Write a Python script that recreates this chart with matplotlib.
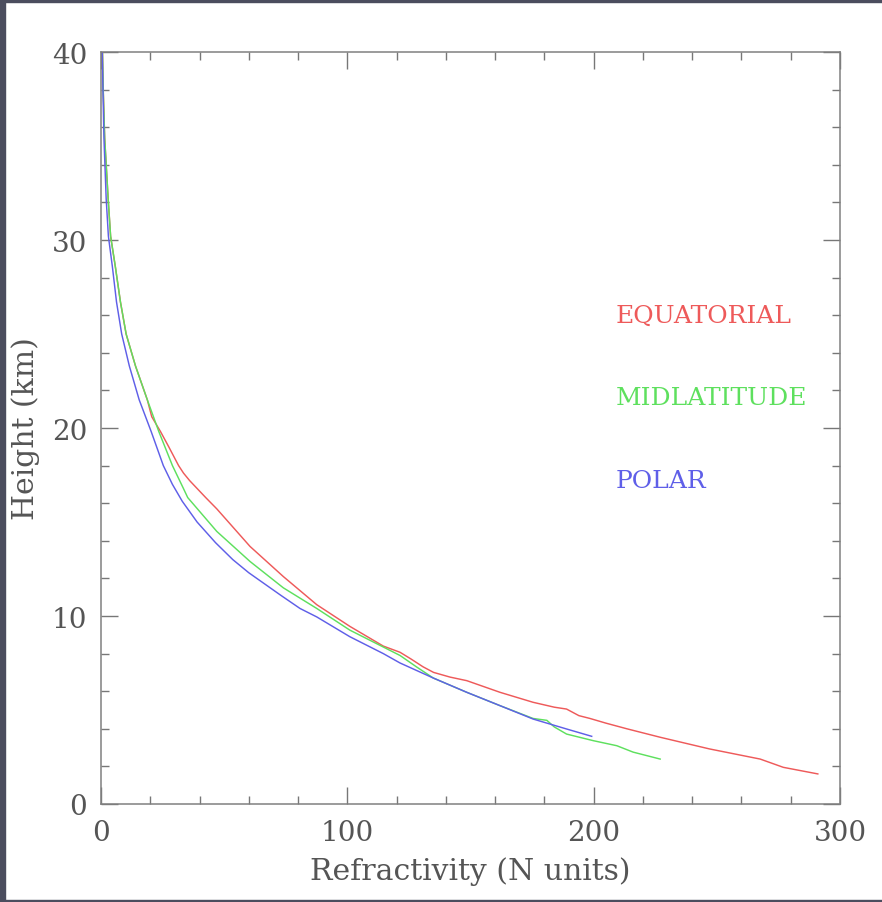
import numpy as np
import matplotlib
matplotlib.use('Agg')
import matplotlib.pyplot as plt
from matplotlib.patches import Rectangle
from matplotlib.ticker import MultipleLocator

# refractivity profiles: height (km) vs N units
eq_height = [40, 38, 35.4, 32.2, 30.2, 28.6, 26.7, 25.0, 23.3, 21.5, 20.6, 19.8,
             19.0, 18.0, 17.6, 17.2, 16.3, 15.7, 13.7, 12.1, 10.6, 9.45, 8.4, 8.07, 7.7,
             7.3, 7.0, 6.75, 6.56, 5.94, 5.41, 5.15, 5.05, 4.7, 4.55, 4.3, 4.0,
             3.55, 2.93, 2.39, 1.95, 1.6]
eq_n = [0.6, 0.9, 1.5, 2.9, 3.9, 5.8, 7.9, 10.2, 14.0, 18.8, 20.6, 24.2,
        27.5, 31.5, 33.5, 36.0, 42.5, 47.0, 60.5, 74.0, 87.6, 101.0, 114.6, 121.4, 126.0,
        130.7, 135.0, 141.7, 148.5, 162.0, 175.4, 184.0, 189.0, 194.0, 198.5, 205.0, 213.5,
        227.0, 247.0, 267.6, 277.0, 291.0]

mid_height = [40, 38, 35.4, 32.2, 30.2, 28.6, 26.7, 25.0, 23.3, 21.5, 19.8, 18.0,
              16.8, 16.3, 14.5, 12.9, 11.5, 10.4, 9.25, 8.35, 7.9, 7.3, 6.7, 5.94,
              5.23, 4.55, 4.45, 4.1, 3.72, 3.37, 3.1, 2.76, 2.39]
mid_n = [0.6, 0.9, 1.5, 2.9, 3.9, 5.8, 7.9, 10.2, 14.0, 18.8, 23.5, 29.0,
         33.4, 35.2, 47.0, 60.5, 74.0, 87.6, 101.0, 114.6, 121.4, 128.0, 134.9, 148.5,
         162.0, 175.4, 181.0, 184.0, 189.0, 199.8, 209.4, 216.0, 227.0]

pol_height = [40, 38, 35.4, 32.2, 30.2, 28.6, 26.7, 25.0, 23.3, 21.5, 19.8, 18.0,
              17.0, 16.1, 15.0, 13.9, 13.0, 12.3, 11.1, 10.4, 9.95, 8.9, 8.0, 7.5,
              6.7, 5.94, 5.23, 4.52, 3.99, 3.6]
pol_n = [0.5, 0.8, 1.2, 2.1, 3.0, 4.6, 6.3, 8.4, 11.5, 15.5, 20.4, 25.3,
         29.0, 33.0, 39.0, 46.5, 53.5, 60.0, 73.0, 80.8, 87.6, 101.0, 114.6, 121.4,
         134.9, 148.5, 162.0, 175.4, 189.0, 199.2]

labels = ['EQUATORIAL', 'MIDLATITUDE', 'POLAR']
label_heights = [26.0, 21.6, 17.2]
colors = ['#ee5a5a', '#5ee05e', '#5f5fe8']

plt.rcParams['font.family'] = ['DejaVu Serif']
grey = '#555555'

fig = plt.figure(figsize=(8.82, 9.03), dpi=100)
fig.patch.set_facecolor('white')

# dark frame round the page
frame = '#4b4d5e'
fig.patches.append(Rectangle((0, 0), 5 / 882, 1, transform=fig.transFigure, color=frame, zorder=10))
fig.patches.append(Rectangle((0, 1 - 3 / 903), 1, 3 / 903, transform=fig.transFigure, color=frame, zorder=10))
fig.patches.append(Rectangle((0, 0), 1, 2 / 903, transform=fig.transFigure, color=frame, zorder=10))

ax = fig.add_axes([101 / 882, 1 - 805 / 903, 739 / 882, 752 / 903])

for n, h, c in zip([eq_n, mid_n, pol_n], [eq_height, mid_height, pol_height], colors):
    ax.plot(n, h, color=c, lw=1.05, solid_joinstyle='round')

for lab, y, c in zip(labels, label_heights, colors):
    ax.text(209, y, lab, color=c, fontsize=18, va='center', ha='left')

ax.set_xlim(0, 300)
ax.set_ylim(0, 40)
ax.xaxis.set_major_locator(MultipleLocator(100))
ax.xaxis.set_minor_locator(MultipleLocator(20))
ax.yaxis.set_major_locator(MultipleLocator(10))
ax.yaxis.set_minor_locator(MultipleLocator(2))
ax.tick_params(which='both', direction='in', top=True, right=True, color='#777777', width=1.0)
ax.tick_params(which='major', length=12, labelsize=20, labelcolor=grey)
ax.tick_params(axis='x', which='major', pad=11)
ax.tick_params(axis='y', which='major', pad=10)
ax.tick_params(which='minor', length=6)
for s in ax.spines.values():
    s.set_color('#808080')
    s.set_linewidth(1.1)

ax.set_xlabel('Refractivity (N units)', fontsize=21.5, color=grey, labelpad=7)
ax.set_ylabel('Height (km)', fontsize=21.5, color=grey, labelpad=8)

fig.savefig('out.png', dpi=100, facecolor=fig.get_facecolor())
